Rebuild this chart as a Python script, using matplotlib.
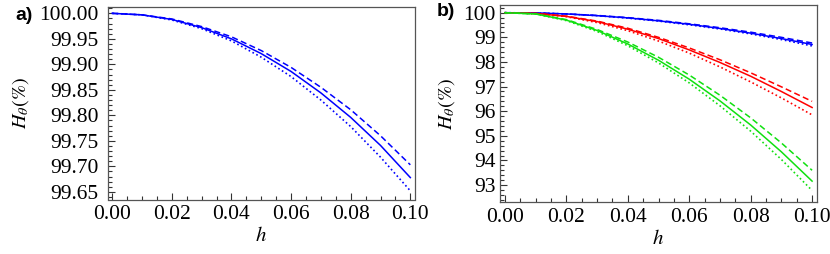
import numpy as np
import matplotlib
matplotlib.use("Agg")
import matplotlib.pyplot as plt
from matplotlib.ticker import MultipleLocator, FormatStrFormatter

plt.rcParams['font.family'] = 'Liberation Serif'
plt.rcParams['mathtext.fontset'] = 'stix'

h = [0.0, 0.01, 0.02, 0.03, 0.04, 0.05, 0.06, 0.07, 0.08, 0.09, 0.10]

# panel a (blue only)
a_solid = [100.0, 99.997, 99.988, 99.972, 99.950, 99.921, 99.886, 99.844, 99.796, 99.741, 99.678]
a_dash = [100.0, 99.997, 99.989, 99.974, 99.954, 99.927, 99.894, 99.855, 99.811, 99.760, 99.703]
a_dot = [100.0, 99.997, 99.987, 99.970, 99.946, 99.914, 99.876, 99.830, 99.778, 99.718, 99.652]

# panel b
blue_solid = [100, 99.99, 99.95, 99.88, 99.79, 99.67, 99.53, 99.36, 99.17, 98.95, 98.71]
blue_dash = [100, 99.99, 99.95, 99.89, 99.80, 99.69, 99.55, 99.39, 99.21, 99.00, 98.77]
blue_dot = [100, 99.99, 99.95, 99.88, 99.78, 99.66, 99.51, 99.34, 99.14, 98.91, 98.65]

red_solid = [100, 99.97, 99.85, 99.64, 99.33, 98.95, 98.49, 97.98, 97.42, 96.80, 96.15]
red_dash = [100, 99.97, 99.86, 99.66, 99.37, 99.00, 98.57, 98.09, 97.56, 96.99, 96.40]
red_dot = [100, 99.97, 99.84, 99.60, 99.27, 98.85, 98.36, 97.80, 97.19, 96.54, 95.85]

green_solid = [100, 99.95, 99.70, 99.28, 98.73, 98.07, 97.30, 96.42, 95.44, 94.35, 93.16]
green_dash = [100, 99.95, 99.72, 99.32, 98.81, 98.19, 97.47, 96.65, 95.73, 94.71, 93.60]
green_dot = [100, 99.95, 99.68, 99.24, 98.66, 97.96, 97.15, 96.22, 95.19, 94.04, 92.78]

BLUE = '#0000ff'
RED = '#ff0000'
GREEN = '#10e010'
DASH = (0, (4, 2.2))
DOT = (0, (1, 1.6))

fig = plt.figure(figsize=(8.3, 2.54), dpi=100)
axa = fig.add_axes([108/830, 1-199.5/254, (414.5-108)/830, (199.5-6.7)/254])
axb = fig.add_axes([500/830, 1-202.3/254, (816.7-500)/830, (202.3-5)/254])


def plot3(ax, s, d, o, c):
    ax.plot(h, s, color=c, lw=1.1)
    ax.plot(h, d, color=c, lw=1.1, linestyle=DASH)
    ax.plot(h, o, color=c, lw=1.2, linestyle=DOT)


plot3(axa, a_solid, a_dash, a_dot, BLUE)
plot3(axb, blue_solid, blue_dash, blue_dot, BLUE)
plot3(axb, red_solid, red_dash, red_dot, RED)
plot3(axb, green_solid, green_dash, green_dot, GREEN)

axa.set_xlim(-0.0014, 0.1014)
axa.set_ylim(99.635, 100.013)
axa.yaxis.set_major_locator(MultipleLocator(0.05))
axa.yaxis.set_minor_locator(MultipleLocator(0.01))
axa.yaxis.set_major_formatter(FormatStrFormatter('%.2f'))

axb.set_xlim(-0.0016, 0.1015)
axb.set_ylim(92.30, 100.313)
axb.yaxis.set_major_locator(MultipleLocator(1))
axb.yaxis.set_minor_locator(MultipleLocator(0.2))
axb.yaxis.set_major_formatter(FormatStrFormatter('%d'))

for ax in (axa, axb):
    ax.xaxis.set_major_locator(MultipleLocator(0.02))
    ax.xaxis.set_minor_locator(MultipleLocator(0.005))
    ax.xaxis.set_major_formatter(FormatStrFormatter('%.2f'))
    ax.tick_params(which='both', direction='in', top=False, right=False, labelsize=15.5, width=0.8, color='#333333')
    ax.tick_params(which='major', length=5)
    ax.tick_params(which='minor', length=3)
    ax.tick_params(axis='x', pad=4)
    for sp in ax.spines.values():
        sp.set_color('#555555')
        sp.set_linewidth(0.9)
    ax.set_xlabel(r'$h$', fontsize=15, labelpad=2)

axa.tick_params(axis='y', pad=7)
axb.tick_params(axis='y', pad=3)
axa.set_ylabel(r'$H_{\theta}(\%)$', fontsize=14.5, labelpad=6)
axb.set_ylabel(r'$H_{\theta}(\%)$', fontsize=14.5, labelpad=5)

fig.text(15/830, 1-15/254, 'a)', fontsize=14, fontweight='bold', family='Liberation Sans', va='center', ha='left')
fig.text(437/830, 1-12/254, 'b)', fontsize=14, fontweight='bold', family='Liberation Sans', va='center', ha='left')

fig.savefig('out.png', dpi=100)
